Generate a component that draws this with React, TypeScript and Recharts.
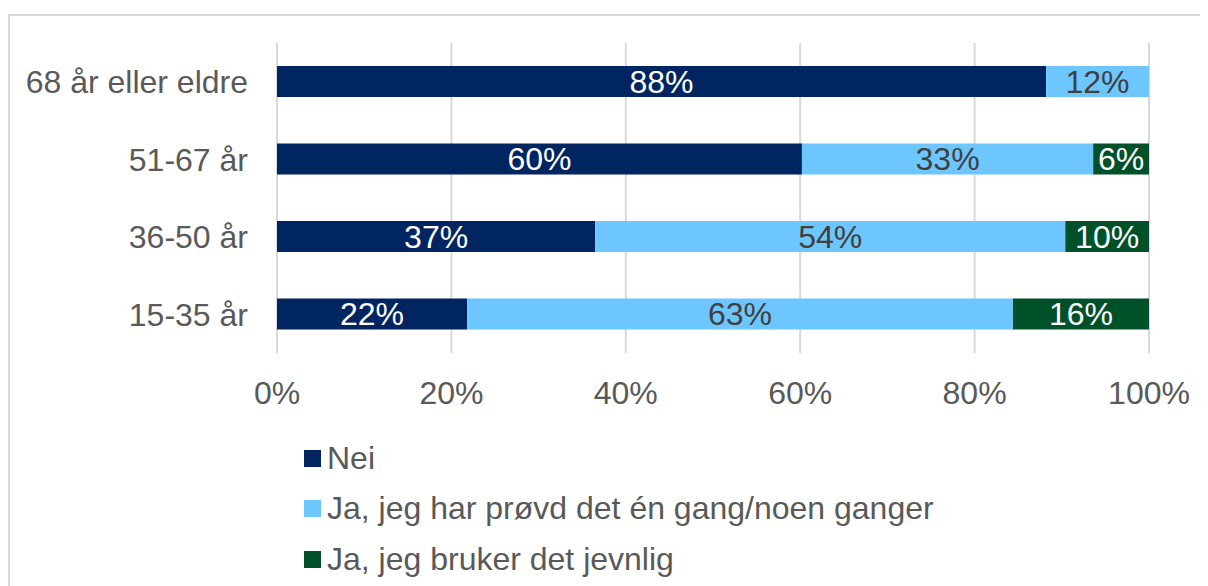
import React from "react";
import { BarChart, Bar, XAxis, YAxis, CartesianGrid, Legend, LabelList } from "recharts";

const categories = ["68 år eller eldre", "51-67 år", "36-50 år", "15-35 år"];
const nei = [88.2, 60.2, 36.5, 21.8];
const provd = [11.8, 33.4, 53.9, 62.6];
const jevnlig = [0, 6.4, 9.6, 15.6];
const xTicks = [0, 20, 40, 60, 80, 100];

const seriesNames = ["Nei", "Ja, jeg har prøvd det én gang/noen ganger", "Ja, jeg bruker det jevnlig"];
const colors = ["#002561", "#6EC6FF", "#00502A"];
const labelColors = ["#ffffff", "#404040", "#ffffff"];

const data = categories.map((c, i) => ({ name: c, nei: nei[i], provd: provd[i], jevnlig: jevnlig[i] }));

const FONT = "'Liberation Sans', Arial, sans-serif";
const FS = 32;

const pct = (v: any) => (v ? `${Math.round(Number(v))}%` : "");

function LegendBox() {
  return (
    <div style={{ fontFamily: FONT, fontSize: FS, color: "#595959" }}>
      {seriesNames.map((n, i) => (
        <div key={n} style={{ display: "flex", alignItems: "center", height: 50.5 }}>
          <span style={{ width: 17, height: 17, background: colors[i], marginRight: 6, display: "inline-block" }} />
          <span>{n}</span>
        </div>
      ))}
    </div>
  );
}

export default function App() {
  const keys = ["nei", "provd", "jevnlig"];
  return (
    <div
      style={{
        marginTop: 6,
        width: 1210,
        height: 570,
        borderTop: "2px solid #d9d9d9",
        borderLeft: "2px solid #d9d9d9",
        background: "#fff",
        overflow: "hidden",
      }}
    >
      <style>{"body{overflow:hidden}"}</style>
      <BarChart
        width={1198}
        height={570}
        data={data}
        layout="vertical"
        margin={{ top: 27, right: 59, bottom: 173, left: 0 }}
        barSize={31}
      >
        <CartesianGrid horizontal={false} stroke="#d9d9d9" strokeWidth={2} />
        <XAxis
          type="number"
          domain={[0, 100]}
          ticks={xTicks}
          tickFormatter={(v: number) => `${v}%`}
          axisLine={false}
          tickLine={false}
          tickSize={0}
          tickMargin={28}
          height={60}
          interval={0}
          tick={{ fontSize: FS, fill: "#595959", fontFamily: FONT }}
        />
        <YAxis
          type="category"
          dataKey="name"
          width={267}
          axisLine={false}
          tickLine={false}
          tickSize={0}
          tickMargin={29}
          interval={0}
          tick={{ fontSize: FS, fill: "#595959", fontFamily: FONT }}
        />
        <Legend
          layout="vertical"
          align="center"
          verticalAlign="middle"
          wrapperStyle={{ left: 294, top: 417, width: 800 }}
          content={() => <LegendBox />}
        />
        {keys.map((k, i) => (
          <Bar key={k} dataKey={k} name={seriesNames[i]} stackId="a" fill={colors[i]} isAnimationActive={false}>
            <LabelList
              dataKey={k}
              position="center"
              formatter={pct}
              fill={labelColors[i]}
              style={{ fontSize: FS, fontFamily: FONT }}
            />
          </Bar>
        ))}
      </BarChart>
    </div>
  );
}
